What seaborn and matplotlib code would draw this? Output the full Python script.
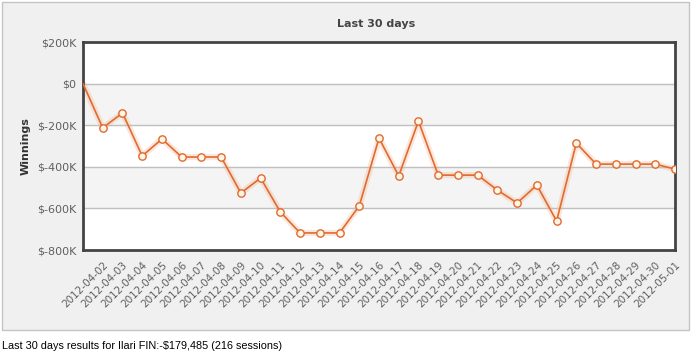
import pandas as pd
import matplotlib
matplotlib.use('Agg')
import matplotlib.pyplot as plt
import seaborn as sns
from matplotlib.ticker import FuncFormatter
from matplotlib.patches import Rectangle

# Data (cumulative winnings, starting at 0)
days = ['', '2012-04-02', '2012-04-03', '2012-04-04', '2012-04-05', '2012-04-06',
        '2012-04-07', '2012-04-08', '2012-04-09', '2012-04-10', '2012-04-11',
        '2012-04-12', '2012-04-13', '2012-04-14', '2012-04-15', '2012-04-16',
        '2012-04-17', '2012-04-18', '2012-04-19', '2012-04-20', '2012-04-21',
        '2012-04-22', '2012-04-23', '2012-04-24', '2012-04-25', '2012-04-26',
        '2012-04-27', '2012-04-28', '2012-04-29', '2012-04-30', '2012-05-01']
winnings = [0, -213000, -141000, -348000, -266000, -353000,
            -353000, -353000, -526000, -454000, -617000,
            -718000, -718000, -718000, -588000, -262000,
            -444000, -180000, -440000, -440000, -440000,
            -512000, -574000, -488000, -661000, -286000,
            -387000, -387000, -387000, -387000, -411000]
y_ticks = [200000, 0, -200000, -400000, -600000, -800000]

title = 'Last 30 days'
footer = 'Last 30 days results for Ilari FIN:-$179,485 (216 sessions)'

df = pd.DataFrame({'pos': range(len(days)), 'day': days, 'winnings': winnings})
marked = df[df['day'] != '']

sns.set_style('white')
plt.rcParams['font.family'] = ['DejaVu Sans']

fig = plt.figure(figsize=(7, 3.6), dpi=100)
fig.patch.set_facecolor('white')

# light gray panel behind the chart
fig.patches.append(Rectangle((2 / 700, 1 - 330 / 360), 687 / 700, 328 / 360,
                             transform=fig.transFigure, facecolor='#f0f0f0',
                             edgecolor='#c4c4c4', linewidth=1, zorder=-10))

ax = fig.add_axes([83 / 700, 1 - 250 / 360, 592 / 700, 208 / 360])
ax.set_zorder(1)
ax.set_facecolor('white')

# alternating bands
ax.axhspan(-200000, 0, color='#f4f4f4', zorder=0)
ax.axhspan(-600000, -400000, color='#f4f4f4', zorder=0)
for t in y_ticks[1:-1]:
    ax.axhline(t, color='#c0c0c0', linewidth=1, zorder=1)

# glow + line + markers
sns.lineplot(data=df, x='pos', y='winnings', ax=ax, color='#f4b088',
             linewidth=4.5, alpha=0.3, zorder=2)
sns.lineplot(data=df, x='pos', y='winnings', ax=ax, color='#e06a30',
             linewidth=1.2, zorder=3)
sns.scatterplot(data=marked, x='pos', y='winnings', ax=ax, color='#fff6e6',
                edgecolor='#e06a30', linewidth=1, s=28, zorder=4)

ax.set_xlim(0, len(days) - 1)
ax.set_ylim(-800000, 200000)
ax.set_yticks(y_ticks)
ax.yaxis.set_major_formatter(FuncFormatter(
    lambda v, p: '$0' if v == 0 else '$%dK' % (v / 1000)))
ax.set_xticks(marked['pos'])
ax.set_xticklabels(marked['day'], rotation=45, ha='right', rotation_mode='anchor')
ax.tick_params(axis='x', length=0, labelsize=7.5, colors='#606060', pad=7)
ax.tick_params(axis='y', length=0, labelsize=8, colors='#606060', pad=5)
ax.set_xlabel('')
ax.set_ylabel('Winnings', fontsize=8, fontweight='bold', color='#333333', labelpad=4)

for s in ax.spines.values():
    s.set_color('#444444')
    s.set_linewidth(2)
    s.set_visible(True)

fig.text(376 / 700, 1 - 24 / 360, title, ha='center', va='center',
         fontsize=8, fontweight='bold', color='#444444')
fig.text(2 / 700, 1 - 346 / 360, footer, ha='left', va='center',
         fontsize=7.8, color='black', family=['Liberation Sans'])

fig.savefig('out.png', dpi=100)
